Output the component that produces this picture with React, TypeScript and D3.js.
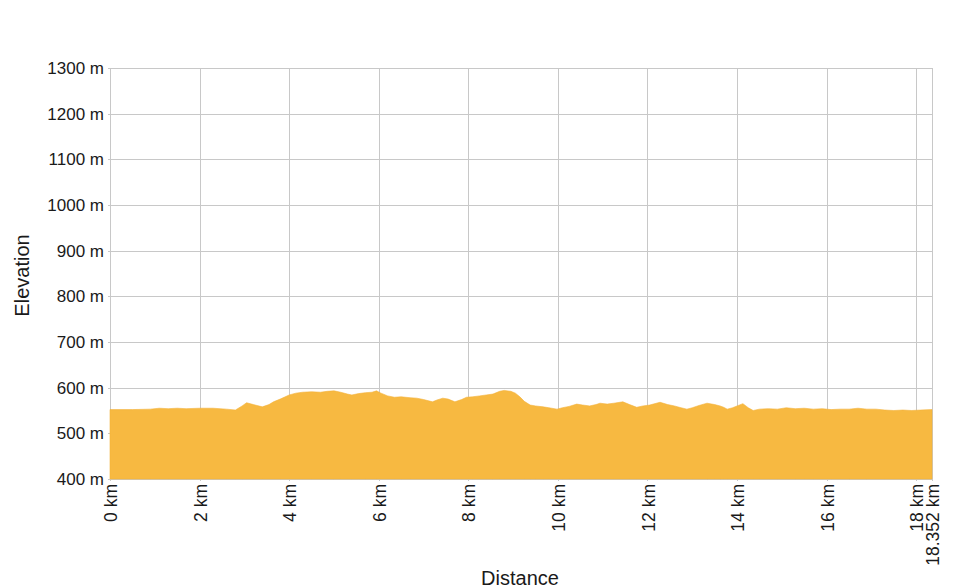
import { useEffect, useRef } from "react";
import * as d3 from "d3";

// distance along the route (km) and elevation (m)
const distanceKm = [
  0, 0.5, 0.9, 1.1, 1.3, 1.5, 1.7, 2.0, 2.3, 2.6, 2.8, 2.95, 3.05, 3.2, 3.4, 3.55, 3.65, 3.8,
  4.0, 4.15, 4.3, 4.5, 4.7, 4.85, 5.0, 5.15, 5.3, 5.4, 5.55, 5.7, 5.85, 5.95, 6.05, 6.2, 6.35,
  6.5, 6.7, 6.85, 7.0, 7.2, 7.3, 7.43, 7.55, 7.7, 7.85, 7.96, 8.1, 8.25, 8.4, 8.55, 8.7, 8.8,
  8.95, 9.05, 9.15, 9.25, 9.38, 9.5, 9.67, 9.8, 9.98, 10.1, 10.25, 10.42, 10.55, 10.71, 10.85,
  10.94, 11.1, 11.25, 11.45, 11.6, 11.76, 11.9, 12.05, 12.28, 12.45, 12.6, 12.75, 12.88, 13.0,
  13.15, 13.33, 13.5, 13.62, 13.7, 13.78, 13.9, 14.0, 14.13, 14.25, 14.36, 14.5, 14.7, 14.9,
  15.1, 15.3, 15.5, 15.7, 15.9, 16.1, 16.3, 16.5, 16.7, 16.9, 17.1, 17.3, 17.5, 17.7, 17.9,
  18.1, 18.352,
];
const elevationM = [
  552, 552, 553, 555, 554, 555, 554, 555, 555, 553, 551, 560, 567, 563, 558, 563, 569, 575,
  584, 588, 590, 591, 590, 592, 593, 590, 586, 584, 587, 589, 590, 593, 588, 582, 579,
  580, 578, 577, 574, 569, 573, 577, 575, 569, 574, 579, 580, 582, 584, 586, 592, 594,
  592, 588, 580, 570, 562, 560, 558, 556, 553, 556, 559, 564, 562, 560, 563,
  566, 564, 566, 569, 563, 557, 560, 562, 568, 563, 560, 556, 553, 556,
  561, 566, 563, 560, 557, 553, 556, 560, 565, 556, 550, 553, 554, 553,
  556, 554, 555, 553, 554, 552, 553, 553, 555, 553, 553, 551, 550, 551, 550,
  551, 552,
];
const elevationTicks = [400, 500, 600, 700, 800, 900, 1000, 1100, 1200, 1300];
const distanceTicks = [0, 2, 4, 6, 8, 10, 12, 14, 16, 18, 18.352];

export default function App() {
  const ref = useRef<SVGSVGElement>(null);

  useEffect(() => {
    if (!ref.current) return;
    const svg = d3.select(ref.current);
    svg.selectAll("*").remove();

    const width = 972;
    const height = 588;
    const margin = { top: 68, right: 40, bottom: 109, left: 110 };
    const font = "'Liberation Sans', Arial, sans-serif";

    const x = d3.scaleLinear().domain([0, 18.352]).range([margin.left, width - margin.right]);
    const y = d3.scaleLinear().domain([400, 1300]).range([height - margin.bottom, margin.top]);

    const data = distanceKm.map((d, i) => ({ d, e: elevationM[i] }));

    // grid
    svg
      .append("g")
      .selectAll("line")
      .data(elevationTicks)
      .join("line")
      .attr("x1", margin.left - 2)
      .attr("x2", width - margin.right)
      .attr("y1", (d) => Math.round(y(d)) + 0.5)
      .attr("y2", (d) => Math.round(y(d)) + 0.5)
      .attr("stroke", "#c8c8c8");

    svg
      .append("g")
      .selectAll("line")
      .data(distanceTicks)
      .join("line")
      .attr("x1", (d) => Math.round(x(d)) + 0.5)
      .attr("x2", (d) => Math.round(x(d)) + 0.5)
      .attr("y1", margin.top)
      .attr("y2", height - margin.bottom + 2)
      .attr("stroke", "#c8c8c8");

    // elevation area
    const area = d3
      .area<{ d: number; e: number }>()
      .x((p) => x(p.d))
      .y0(y(400))
      .y1((p) => y(p.e));

    svg
      .append("path")
      .datum(data)
      .attr("d", area)
      .attr("fill", "#f7b941")
      .attr("stroke", "#f3b13a")
      .attr("stroke-width", 0.6);

    // y tick labels
    svg
      .append("g")
      .selectAll("text")
      .data(elevationTicks)
      .join("text")
      .attr("x", margin.left - 6)
      .attr("y", (d) => y(d))
      .attr("dy", "0.35em")
      .attr("text-anchor", "end")
      .attr("font-family", font)
      .attr("font-size", "17px")
      .attr("fill", "#1a1a1a")
      .text((d) => `${d} m`);

    // x tick labels, rotated
    svg
      .append("g")
      .selectAll("text")
      .data(distanceTicks)
      .join("text")
      .attr("transform", (d) => `translate(${x(d) + 1},${height - margin.bottom + 5}) rotate(-90)`)
      .attr("dy", "0.35em")
      .attr("text-anchor", "end")
      .attr("font-family", font)
      .attr("font-size", "17.5px")
      .attr("fill", "#1a1a1a")
      .text((d) => `${d} km`);

    // axis titles
    svg
      .append("text")
      .attr("transform", `translate(29,${(margin.top + height - margin.bottom) / 2 + 2}) rotate(-90)`)
      .attr("text-anchor", "middle")
      .attr("font-family", font)
      .attr("font-size", "20px")
      .attr("fill", "#1a1a1a")
      .text("Elevation");

    svg
      .append("text")
      .attr("x", 520)
      .attr("y", 585)
      .attr("text-anchor", "middle")
      .attr("font-family", font)
      .attr("font-size", "20px")
      .attr("fill", "#1a1a1a")
      .text("Distance");
  }, []);

  return (
    <svg
      ref={ref}
      width={972}
      height={588}
      style={{ position: "absolute", left: 0, top: 0, background: "#fff" }}
    />
  );
}
